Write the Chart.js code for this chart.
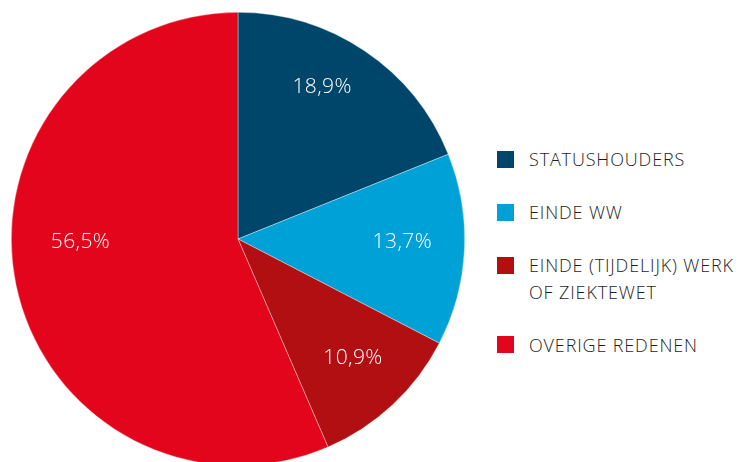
<!DOCTYPE html>
<html>
<head>
<meta charset="utf-8">
<script src="https://cdn.jsdelivr.net/npm/chart.js@4"></script>
<style>
  html, body { margin: 0; padding: 0; background: #ffffff; width: 751px; height: 462px; overflow: hidden; }
  #wrap { position: absolute; left: 11px; top: 12px; width: 454px; height: 454px; }
  #legend { position: absolute; left: 497px; top: 146px; font-family: "Open Sans", sans-serif; font-size: 18px; font-weight: 350; letter-spacing: 0.85px; color: #1e1e1e; }
  .item { display: flex; align-items: flex-start; margin-bottom: 26.5px; line-height: 26.5px; }
  .sw { width: 17px; height: 17px; margin-top: 4.75px; margin-right: 15px; flex: none; }
</style>
</head>
<body>
<div id="wrap"><canvas id="c"></canvas></div>
<div id="legend"></div>
<script>
const categories = ["STATUSHOUDERS", "EINDE WW", "EINDE (TIJDELIJK) WERK\nOF ZIEKTEWET", "OVERIGE REDENEN"];
const values = [18.9, 13.7, 10.9, 56.5];
const valueLabels = ["18,9%", "13,7%", "10,9%", "56,5%"];
const colors = ["#00456a", "#00a1d6", "#b20f13", "#e3051b"];
// label placement tweaks (angle shift in degrees, radius fraction)
const labelAngleShift = [-5, -1.5, -1, 10.5];
const labelRadius = [0.765, 0.725, 0.73, 0.695];

const legend = document.getElementById('legend');
categories.forEach((c, i) => {
  const it = document.createElement('div');
  it.className = 'item';
  const sw = document.createElement('div');
  sw.className = 'sw';
  sw.style.background = colors[i];
  const tx = document.createElement('div');
  tx.innerHTML = c.split('\n').join('<br>');
  it.appendChild(sw); it.appendChild(tx);
  legend.appendChild(it);
});

const labelPlugin = {
  id: 'sliceLabels',
  afterDatasetsDraw(chart) {
    const ctx = chart.ctx;
    const meta = chart.getDatasetMeta(0);
    ctx.save();
    ctx.fillStyle = '#ffffff';
    ctx.font = '300 21px "Open Sans", sans-serif';
    try { ctx.letterSpacing = '0.4px'; } catch (e) {}
    ctx.textAlign = 'center';
    ctx.textBaseline = 'middle';
    meta.data.forEach((arc, i) => {
      const p = arc.getProps(['x', 'y', 'startAngle', 'endAngle', 'outerRadius'], true);
      const a = (p.startAngle + p.endAngle) / 2 + labelAngleShift[i] * Math.PI / 180;
      const r = p.outerRadius * labelRadius[i];
      ctx.fillText(valueLabels[i], p.x + Math.cos(a) * r, p.y + Math.sin(a) * r);
    });
    ctx.restore();
  }
};

new Chart(document.getElementById('c'), {
  type: 'pie',
  data: {
    labels: categories,
    datasets: [{
      data: values,
      backgroundColor: colors,
      borderColor: 'rgba(255,255,255,0.6)',
      borderWidth: 0.6
    }]
  },
  options: {
    responsive: true,
    maintainAspectRatio: false,
    animation: false,
    layout: { padding: 0 },
    plugins: { legend: { display: false }, tooltip: { enabled: false } }
  },
  plugins: [labelPlugin]
});
</script>
</body>
</html>
